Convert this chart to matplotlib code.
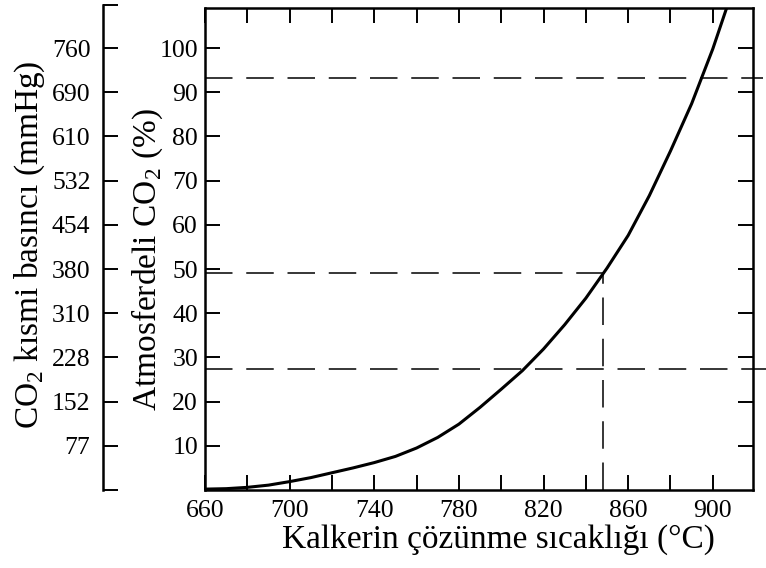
import numpy as np
import matplotlib.pyplot as plt

plt.rcParams['font.family'] = ['Liberation Serif', 'DejaVu Serif']
plt.rcParams['mathtext.fontset'] = 'custom'
plt.rcParams['mathtext.rm'] = 'Liberation Serif'

# curve: decomposition temperature (C) vs CO2 in atmosphere (%)
temp = [660, 670, 680, 690, 700, 710, 720, 730, 740, 750, 760, 770, 780, 790,
        800, 810, 820, 830, 840, 850, 860, 870, 880, 890, 900, 906.5]
co2 = [0.2, 0.3, 0.6, 1.1, 1.9, 2.8, 3.9, 5.0, 6.2, 7.6, 9.5, 11.9, 14.9, 18.7,
       22.8, 27.0, 31.9, 37.4, 43.4, 50.2, 57.6, 66.6, 76.7, 87.4, 99.8, 109]

# dashed guide lines (level in %, right end in C)
guide_levels = [93.2, 49.2, 27.4]
guide_ends = [923.5, 848, 925]
guide_vx = 848

pct_ticks = [10, 20, 30, 40, 50, 60, 70, 80, 90, 100]
mmhg_labels = ['77', '152', '228', '310', '380', '454', '532', '610', '690', '760']
x_major = [660, 700, 740, 780, 820, 860, 900]
x_minor = [680, 720, 760, 800, 840, 880]

W, H = 766, 568
fig = plt.figure(figsize=(W / 100, H / 100), dpi=100)

# main axes in pixel terms
L, R, T, B = 205, 753, 8, 490
ax = fig.add_axes([L / W, 1 - B / H, (R - L) / W, (B - T) / H])
ymax = 109.05
ax.set_xlim(660, 919)
ax.set_ylim(0, ymax)

ax.plot(temp, co2, color='black', lw=2.2, solid_capstyle='round')

dash = (18, 9)
for lvl, xe in zip(guide_levels, guide_ends):
    ax.plot([660, xe], [lvl, lvl], color='black', lw=1.1, dashes=dash, clip_on=False)
ax.plot([guide_vx, guide_vx], [0, guide_levels[1]], color='black', lw=1.1, dashes=dash)

for s in ax.spines.values():
    s.set_linewidth(1.8)

ax.set_xticks(x_major)
ax.set_xticks(x_minor, minor=True)
ax.set_yticks(pct_ticks)
ax.tick_params(axis='both', which='both', direction='in', length=11, width=1.4,
               top=True, right=True, labelsize=18.5)
ax.tick_params(axis='x', which='both', pad=7)
ax.tick_params(axis='y', pad=5)

# left pressure axis
pT = 5
axp = fig.add_axes([103 / W, 1 - B / H, 0.001, (B - pT) / H])
axp.set_ylim(0, ymax + (T - pT) / ((B - T) / ymax))
axp.patch.set_visible(False)
for k in ['top', 'right', 'bottom']:
    axp.spines[k].set_visible(False)
axp.spines['left'].set_linewidth(1.8)
axp.set_xticks([])
ptop = axp.get_ylim()[1]
axp.set_yticks([0] + pct_ticks + [ptop])
axp.set_yticklabels([''] + mmhg_labels + [''])
axp.tick_params(axis='y', direction='in', length=11, width=1.4, labelsize=18.5, pad=9)

fig.text(30 / W, 1 - 245 / H, r'CO$_{\mathregular{2}}$ kısmi basıncı (mmHg)',
         rotation=90, ha='center', va='center', fontsize=24)
fig.text(147 / W, 1 - 260 / H, r'Atmosferdeli CO$_{\mathregular{2}}$ (%)',
         rotation=90, ha='center', va='center', fontsize=24)
fig.text(498 / W, 1 - 540 / H, 'Kalkerin çözünme sıcaklığı (°C)',
         ha='center', va='center', fontsize=24)

fig.savefig('out.png', dpi=100)
